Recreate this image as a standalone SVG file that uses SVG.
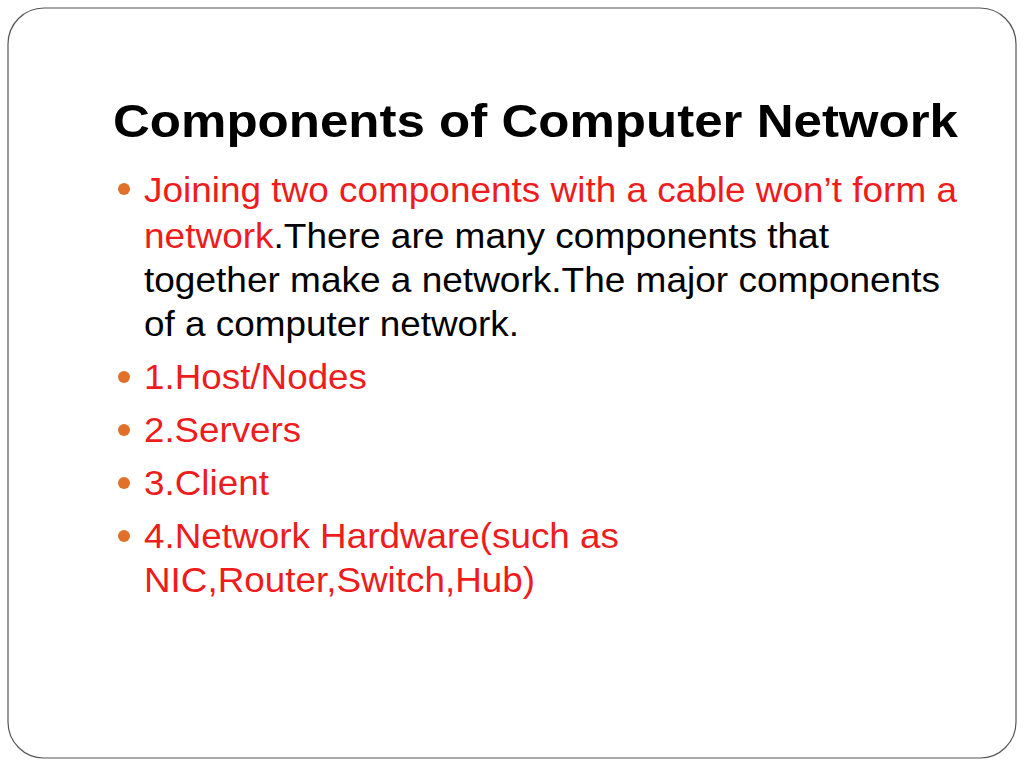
<svg xmlns="http://www.w3.org/2000/svg" width="1024" height="768" viewBox="0 0 1024 768">
<style>
.t{font-family:"Liberation Sans",Arial,sans-serif;font-size:35px;}
.r{fill:#ee1c1c}.k{fill:#000}
.b{fill:#e0702a}
</style>
<rect width="1024" height="768" fill="#fff"/>
<rect x="8" y="8" width="1008" height="750" rx="36" fill="none" stroke="#555" stroke-width="1.2"/>
<text x="113" y="137" font-family="Liberation Sans,Arial,sans-serif" font-size="46" font-weight="bold" textLength="845" lengthAdjust="spacingAndGlyphs">Components of Computer Network</text>
<g class="t">
<circle class="b" cx="124" cy="189" r="6"/>
<text x="144" y="202" class="r" textLength="813" lengthAdjust="spacingAndGlyphs">Joining two components with a cable won’t form a</text>
<text x="144" y="248" textLength="685" lengthAdjust="spacingAndGlyphs"><tspan class="r">network</tspan><tspan class="k">.There are many components that</tspan></text>
<text x="144" y="292" class="k" textLength="796" lengthAdjust="spacingAndGlyphs">together make a network.The major components</text>
<text x="144" y="336" class="k" textLength="375" lengthAdjust="spacingAndGlyphs">of a computer network.</text>
<circle class="b" cx="124" cy="377" r="6"/>
<text x="144" y="389" class="r" textLength="223" lengthAdjust="spacingAndGlyphs">1.Host/Nodes</text>
<circle class="b" cx="124" cy="430" r="6"/>
<text x="144" y="442" class="r" textLength="157" lengthAdjust="spacingAndGlyphs">2.Servers</text>
<circle class="b" cx="124" cy="483" r="6"/>
<text x="144" y="495" class="r" textLength="125" lengthAdjust="spacingAndGlyphs">3.Client</text>
<circle class="b" cx="124" cy="536" r="6"/>
<text x="144" y="548" class="r" textLength="475" lengthAdjust="spacingAndGlyphs">4.Network Hardware(such as</text>
<text x="144" y="592" class="r" textLength="391" lengthAdjust="spacingAndGlyphs">NIC,Router,Switch,Hub)</text>
</g>
</svg>
